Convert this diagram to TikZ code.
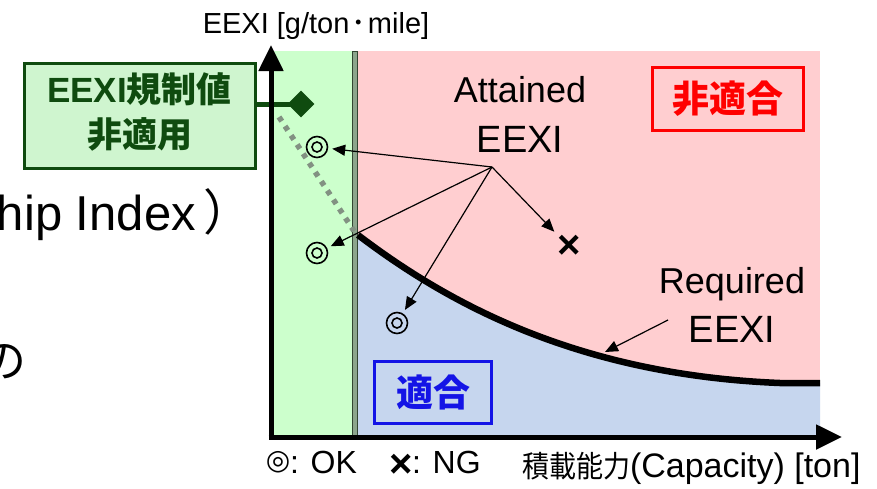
\documentclass[tikz,border=0pt]{standalone}
\usepackage{fontspec}
\setmainfont{Liberation Sans}
\newfontfamily\cjk{Noto Sans CJK JP}
\newfontfamily\symf{DejaVu Sans}
\usetikzlibrary{arrows.meta,shapes.geometric}
\definecolor{bggreen}{RGB}{204,255,204}
\definecolor{bgpink}{RGB}{255,206,208}
\definecolor{bgblue}{RGB}{198,214,238}
\definecolor{dkgreen}{RGB}{15,75,15}
\definecolor{boxgreen}{RGB}{207,245,207}
\definecolor{sepgray}{RGB}{140,165,140}
\definecolor{sepdark}{RGB}{50,70,50}
\definecolor{dotgray}{RGB}{130,145,130}
\definecolor{ngred}{RGB}{255,0,0}
\definecolor{okblue}{RGB}{20,20,230}
\newcommand{\myfs}[1]{\fontsize{#1}{#1}\selectfont}
\tikzset{
  txt/.style={inner sep=0pt, outer sep=0pt},
  okmark/.style={circle, draw=black, line width=1.6pt, minimum size=21pt, inner sep=0pt,
    path picture={\draw[line width=1.6pt] (path picture bounding box.center) circle (5pt);}},
  ptr/.style={-{Triangle[length=13pt,width=11pt]}, line width=1.2pt, black},
  axisline/.style={-{Triangle[length=26pt,width=24pt]}, line width=5pt, black},
  judgebox/.style={draw, line width=3pt, inner sep=0pt, font=\cjk\bfseries\myfs{37}},
}
\begin{document}
\begin{tikzpicture}[x=1pt,y=-1pt]
\useasboundingbox (0,0) rectangle (877,488);
\fill[white] (0,0) rectangle (877,488);

% background fragments of text
\node[txt, anchor=base west] (frag1) at (-3,230) {\myfs{49}hip Index\kern8pt{\cjk ）}};
\node[txt, anchor=east] (frag2) at (27,362) {\cjk\myfs{46}の};

% regions
\fill[bggreen] (273,51) rectangle (353,437);
\fill[bgpink] (358,51) rectangle (820,437);
\fill[bgblue] (358,235) .. controls (450,305) and (580,375) .. (780,383) -- (820,383) -- (820,437) -- (358,437) -- cycle;
\draw[sepdark, fill=sepgray, line width=0.8pt] (352.5,51) rectangle (357.5,437);

% extension (dotted) and required curve
\draw[dotgray, line width=5.5pt, dash pattern=on 5pt off 6pt] (279,117) -- (354,231);
\draw[black, line width=6.5pt] (358,235) .. controls (450,305) and (580,375) .. (780,383) -- (820,383);

% judgement boxes
\node[judgebox, draw=ngred, text=ngred, minimum width=151pt, minimum height=63pt] (ngbox) at (728,99) {非適合};
\node[judgebox, draw=okblue, text=okblue, minimum width=117pt, minimum height=62pt] (okbox) at (433,392.5) {適合};

% non-applicable box
\node[draw=dkgreen, fill=boxgreen, line width=3pt, minimum width=231pt, minimum height=105pt, inner sep=0pt] (gbox) at (139.5,116) {};
\node[txt, align=center, text=dkgreen, font=\fontsize{35}{45}\selectfont\bfseries] (gtext) at (139.5,111.5)
  {EEXI{\cjk\bfseries 規制値}\\{\cjk\bfseries 非適用}};
\node[diamond, fill=dkgreen, minimum size=27pt, inner sep=0pt] (dia) at (301,104) {};
\draw[dkgreen, line width=5pt] (gbox.east |- dia.center) -- (dia.center);

% markers
\node[okmark] (c1) at (317,147) {};
\node[okmark] (c2) at (317,253) {};
\node[okmark] (c3) at (397,323) {};
\node[txt, font=\bfseries\myfs{40}] (ng) at (569,247) {×};

% attained arrows
\coordinate (hub) at (492,167);
\draw[ptr, shorten >=4pt] (hub) -- (c1);
\draw[ptr, shorten >=4pt] (hub) -- (c2);
\draw[ptr, shorten >=4pt] (hub) -- (c3);
\draw[ptr, shorten >=5pt] (hub) -- (ng);

% required arrow
\coordinate (reqtail) at (668,320);
\coordinate (reqtip) at (605,352);
\draw[ptr] (reqtail) -- (reqtip);

% axes
\draw[axisline] (271,439.5) -- (271,45);
\draw[axisline] (268.5,437) -- (842,437);

% labels
\node[txt, anchor=base] (ylab) at (316,33) {\myfs{29}EEXI [g/ton\kern2pt{\cjk ･}\kern2pt mile]};
\node[txt, align=center, font=\fontsize{37}{50}\selectfont] (att) at (520,114.5)
  {{\fontsize{36}{50}\selectfont Attained}\\{\fontsize{38}{50}\selectfont EEXI}};
\node[txt, align=center, font=\fontsize{37}{49}\selectfont] (req) at (732,305)
  {{\fontsize{36}{49}\selectfont Required}\\{\fontsize{38}{49}\selectfont EEXI}};
\node[txt, anchor=base west] (xlab) at (522,477)
  {{\cjk\myfs{30}\scalebox{0.9}[1]{積載能力}}\myfs{34}(Capacity) [ton]};

% legend
\node[txt, font=\symf\myfs{28}] (lokSym) at (278,462) {◎};
\node[txt, anchor=base west, font=\myfs{32}] (lokTxt) at (290,473) {: OK};
\node[txt, font=\bfseries\myfs{40}] (lngSym) at (401,466) {×};
\node[txt, anchor=base west, font=\myfs{32}] (lngTxt) at (412,473) {: NG};
\end{tikzpicture}
\end{document}
